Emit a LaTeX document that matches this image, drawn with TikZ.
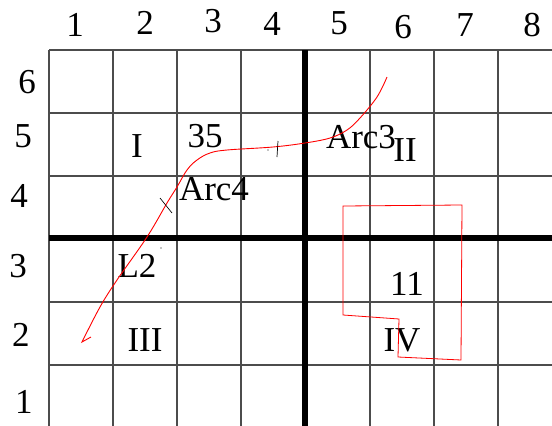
\documentclass[tikz,border=0pt]{standalone}
\usepackage{fontspec}
\setmainfont{Liberation Serif}
\begin{document}
\begin{tikzpicture}[x=1pt,y=-1pt,
  gridline/.style={black!70,line width=1.2pt},
  axisline/.style={black,line width=5.8pt},
  lbl/.style={anchor=base,inner sep=0pt,font=\fontsize{35}{40}\selectfont},
  redline/.style={red,line width=0.9pt},
  tickmark/.style={black,line width=0.7pt}]
\useasboundingbox (0,0) rectangle (552,426);
% grid
\foreach \x in {49,113,177,241,370,434,498}
  \draw[gridline] (\x,50) -- (\x,426);
\foreach \y in {50,113,176,302,365}
  \draw[gridline] (49,\y) -- (552,\y);
\draw[axisline] (305,50) -- (305,426);
\draw[axisline] (49,238) -- (552,238);
% column labels
\node[lbl] (c1) at (75,36) {1};
\node[lbl] (c2) at (145,34) {2};
\node[lbl] (c3) at (213,32) {3};
\node[lbl] (c4) at (272,35) {4};
\node[lbl] (c5) at (339,34) {5};
\node[lbl] (c6) at (403,38) {6};
\node[lbl] (c7) at (465,36) {7};
\node[lbl] (c8) at (532,36) {8};
% row labels
\node[lbl] (r6) at (27,93) {6};
\node[lbl] (r5) at (23,147) {5};
\node[lbl] (r4) at (19,207) {4};
\node[lbl] (r3) at (18,277) {3};
\node[lbl] (r2) at (21,346) {2};
\node[lbl] (r1) at (24,413) {1};
% labels
\node[lbl] (q1) at (137,157) {I};
\node[lbl] (n35) at (205,147) {35};
\node[lbl] (arc4) at (214,200) {Arc4};
\node[lbl] (l2) at (137,277) {L2};
\node[lbl] (arc3) at (361,148) {Arc3};
\node[lbl] (q2) at (405,161) {II};
\node[lbl] (n11) at (407,295) {11};
\node[lbl] (q4) at (402,351) {IV};
\node[lbl] (q3) at (145,351) {III};
% red curve
\draw[redline] plot[smooth,tension=0.6] coordinates {(387,77) (377,97) (360,118) (347,130) (330,138) (305,143) (273,147) (227,150) (210,153) (197,160) (187,170) (177,187) (167,203) (147,237) (117,280) (100,307) (82,342)} -- (91,337);
% tick marks
\draw[tickmark] (160,198) -- (172,213);
\draw[tickmark] (278,141) -- (277,157);
\fill (268,150) circle (0.6);
\fill (161,248) circle (0.6);
% red polygon
\draw[redline,line width=0.8pt] (343,206) -- (462,205) -- (461,360) -- (398,357) -- (399,319) -- (343,315) -- cycle;
\end{tikzpicture}
\end{document}
